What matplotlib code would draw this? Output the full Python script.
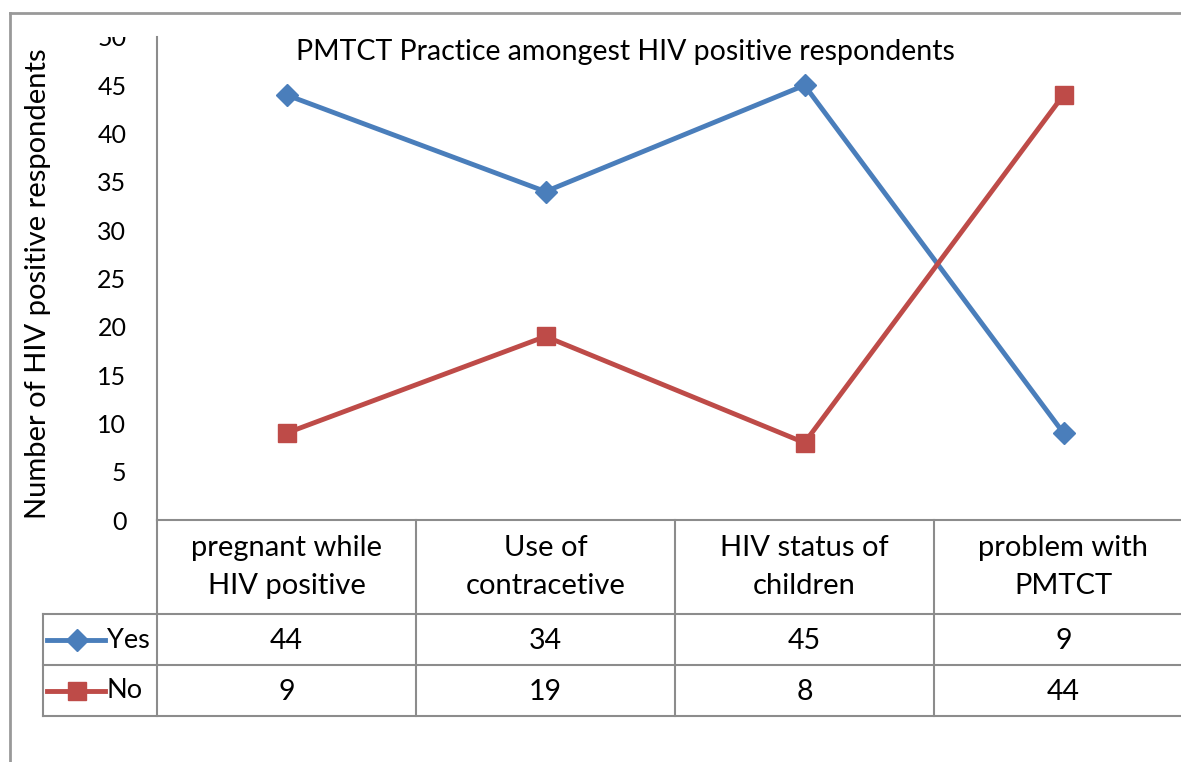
import matplotlib
matplotlib.use("Agg")
import matplotlib.pyplot as plt
from matplotlib.patches import Rectangle
from matplotlib.lines import Line2D

categories = ["pregnant while\nHIV positive", "Use of\ncontracetive", "HIV status of\nchildren", "problem with\nPMTCT"]
yes_vals = [44, 34, 45, 9]
no_vals = [9, 19, 8, 44]
y_ticks = [0, 5, 10, 15, 20, 25, 30, 35, 40, 45, 50]

BLUE = "#4A7EBB"
RED = "#BE4B48"
GRID = "#8c8c8c"
W, H = 1181, 762

plt.rcParams.update({"font.family": ["Lato", "DejaVu Sans"], "font.size": 15})

fig = plt.figure(figsize=(W / 100, H / 100), dpi=100)

def fx(px): return px / W
def fy(py): return 1 - py / H

# main plot area (extends past the right edge like the original)
ax = fig.add_axes([fx(157), fy(520), fx(1193 - 157), (520 - 37) / H])
x = list(range(len(categories)))
ax.plot(x, yes_vals, color=BLUE, lw=3.5, marker="D", ms=11, mec=BLUE, mfc=BLUE, zorder=3)
ax.plot(x, no_vals, color=RED, lw=3.5, marker="s", ms=13, mec=RED, mfc=RED, zorder=3)
ax.set_xlim(-0.5, 3.5)
ax.set_ylim(0, 50)
ax.set_yticks(y_ticks)
ax.set_xticks([])
ax.tick_params(axis="y", length=0, pad=22, labelsize=18)
for s in ["top", "right", "bottom"]:
    ax.spines[s].set_visible(False)
ax.spines["left"].set_color(GRID)
ax.spines["left"].set_linewidth(1.5)
ax.set_ylabel("Number of HIV positive respondents", fontsize=21)
ax.yaxis.set_label_coords(-(157 - 51) / (1193 - 157), (520 - 284) / 483)
fig.text(fx(625), fy(52), "PMTCT Practice amongest HIV positive respondents",
         ha="center", va="center", fontsize=20.5)

# data table below, sharing the category scale
tax = fig.add_axes([fx(157), fy(716), fx(1193 - 157), (716 - 520) / H], sharex=ax)
tax.set_ylim(196, 0)
tax.axis("off")
unit = 1 / 259  # data units per pixel in x
lx = -0.5 - (157 - 43) * unit
kw = dict(color=GRID, lw=1.5, clip_on=False)
tax.plot([-0.5, 3.6], [0, 0], **kw)
for yy in [94, 145, 196]:
    tax.plot([lx, 3.6], [yy, yy], **kw)
tax.plot([lx, lx], [94, 196], **kw)
for b in [-0.5, 0.5, 1.5, 2.5]:
    tax.plot([b, b], [0, 196], **kw)
for i, c in enumerate(categories):
    tax.text(i, 47, c, ha="center", va="center", fontsize=21, linespacing=1.58)
    tax.text(i, 121, str(yes_vals[i]), ha="center", va="center", fontsize=20.5)
    tax.text(i, 172, str(no_vals[i]), ha="center", va="center", fontsize=20.5)

# legend keys inside the table
for yy, col, mk, ms, name in [(120, BLUE, "D", 11, "Yes"), (171, RED, "s", 13, "No")]:
    tax.add_line(Line2D([lx + 4 * unit, lx + 62 * unit], [yy, yy], color=col, lw=3.5, clip_on=False))
    tax.plot([lx + 34 * unit], [yy], marker=mk, ms=ms, color=col, clip_on=False)
    tax.text(lx + 64 * unit, yy, name, ha="left", va="center", fontsize=19.5)

# outer chart frame (top and left only, as cropped)
fig.add_artist(Line2D([fx(10), 1], [fy(13), fy(13)], color="#999999", lw=2))
fig.add_artist(Line2D([fx(10), fx(10)], [fy(13), 0], color="#999999", lw=2))
# clip the top of the axis labels like the original
fig.add_artist(Rectangle((fx(60), fy(37)), fx(95), (37 - 15) / H, transform=fig.transFigure,
                         facecolor="white", edgecolor="none", zorder=10))

fig.savefig("out.png", dpi=100, facecolor="white")
